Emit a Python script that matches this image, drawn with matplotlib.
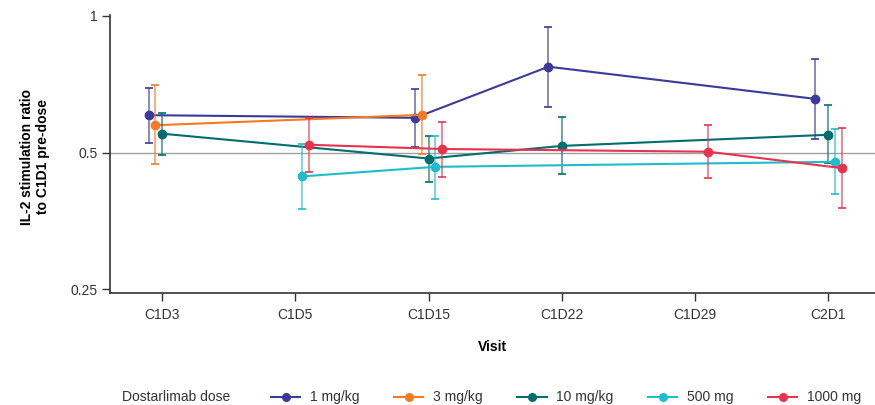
import numpy as np
import matplotlib
matplotlib.use("Agg")
import matplotlib.pyplot as plt
from matplotlib.lines import Line2D

plt.rcParams['font.family'] = ['Liberation Sans', 'DejaVu Sans']

visits = ["C1D3", "C1D5", "C1D15", "C1D22", "C1D29", "C2D1"]
series_names = ["1 mg/kg", "3 mg/kg", "10 mg/kg", "500 mg", "1000 mg"]
colors = ["#3B3A98", "#F47B20", "#006D6F", "#1DBDCC", "#E8334F"]

nan = np.nan
# values per visit (NaN = not measured)
val_1mg    = [0.604, nan, 0.596, 0.772, nan, 0.656]
lo_1mg     = [0.524, nan, 0.515, 0.630, nan, 0.535]
hi_1mg     = [0.694, nan, 0.690, 0.946, nan, 0.804]

val_3mg    = [0.574, nan, 0.605, nan, nan, nan]
lo_3mg     = [0.472, nan, 0.496, nan, nan, nan]
hi_3mg     = [0.702, nan, 0.739, nan, nan, nan]

val_10mg   = [0.550, nan, 0.485, 0.517, nan, 0.547]
lo_10mg    = [0.493, nan, 0.430, 0.448, nan, 0.474]
hi_10mg    = [0.611, nan, 0.543, 0.599, nan, 0.636]

val_500mg  = [nan, 0.443, 0.465, nan, nan, 0.477]
lo_500mg   = [nan, 0.375, 0.396, nan, nan, 0.405]
hi_500mg   = [nan, 0.522, 0.543, nan, nan, 0.563]

val_1000mg = [nan, 0.520, 0.509, nan, 0.502, 0.462]
lo_1000mg  = [nan, 0.453, 0.441, nan, 0.439, 0.377]
hi_1000mg  = [nan, 0.596, 0.584, nan, 0.575, 0.566]

vals = [val_1mg, val_3mg, val_10mg, val_500mg, val_1000mg]
los = [lo_1mg, lo_3mg, lo_10mg, lo_500mg, lo_1000mg]
his = [hi_1mg, hi_3mg, hi_10mg, hi_500mg, hi_1000mg]

yticks = [0.25, 0.5, 1]
ytick_labels = ["0.25", "0.5", "1"]

fig = plt.figure(figsize=(8.75, 4.05), dpi=100)
ax = fig.add_axes([110/875, 1-293/405, 1-110/875, (293-15)/405])

ax.set_yscale('log')
ax.axhline(0.5, color='#a0a0a0', lw=1.0, zorder=1)

dodge = 0.05
xbase = np.arange(len(visits))
for i, (v, lo, hi, c) in enumerate(zip(vals, los, his, colors)):
    v = np.array(v, float); lo = np.array(lo, float); hi = np.array(hi, float)
    m = ~np.isnan(v)
    x = xbase[m] + (i - 2) * dodge
    yerr = np.vstack([v[m] - lo[m], hi[m] - v[m]])
    ax.plot(x, v[m], color=c, lw=1.5, zorder=2 + i)
    eb = ax.errorbar(x, v[m], yerr=yerr, fmt='o', color=c, ms=6, mec=c,
                     ecolor=c, elinewidth=1.3, capsize=2.8, capthick=1.2,
                     zorder=2.5 + i)
    for bc in eb[2]:
        bc.set_alpha(0.65)

ax.set_xticks(xbase)
ax.set_xticklabels(visits, fontsize=10, color='#333333')
ax.set_xlim(-0.39, 5.35)
ax.set_ylim(0.2455, 1.003)
ax.set_yticks(yticks)
ax.set_yticklabels(ytick_labels, fontsize=10, color='#333333')
ax.yaxis.set_minor_locator(matplotlib.ticker.NullLocator())

for s in ['top', 'right']:
    ax.spines[s].set_visible(False)
for s in ['left', 'bottom']:
    ax.spines[s].set_color('#333333')
    ax.spines[s].set_linewidth(1.2)
ax.tick_params(axis='y', direction='out', length=6, width=1.0, color='#333333', pad=3)
ax.tick_params(axis='x', direction='out', length=6, width=1.0, color='#333333', pad=5)

ax.set_xlabel("Visit", fontsize=10, fontweight='bold', labelpad=13)
ax.set_ylabel("IL-2 stimulation ratio\nto C1D1 pre-dose", fontsize=10, fontweight='bold')
ax.yaxis.set_label_coords(-0.078, 0.49)

fig.text(122/875, 1-397/405, "Dostarlimab dose", fontsize=10, color='#333333',
         ha='left', va='center')
handles = [Line2D([0], [0], color=c, lw=1.5, marker='o', ms=5.5) for c in colors]
leg = fig.legend(handles, series_names, loc='center left',
                 bbox_to_anchor=(271/875, 1-397.5/405), ncol=5, frameon=False,
                 fontsize=10, handlelength=2.1, handletextpad=0.7,
                 columnspacing=2.5, borderpad=0, borderaxespad=0)
for t in leg.get_texts():
    t.set_color('#333333')

fig.savefig("out.png", dpi=100)
